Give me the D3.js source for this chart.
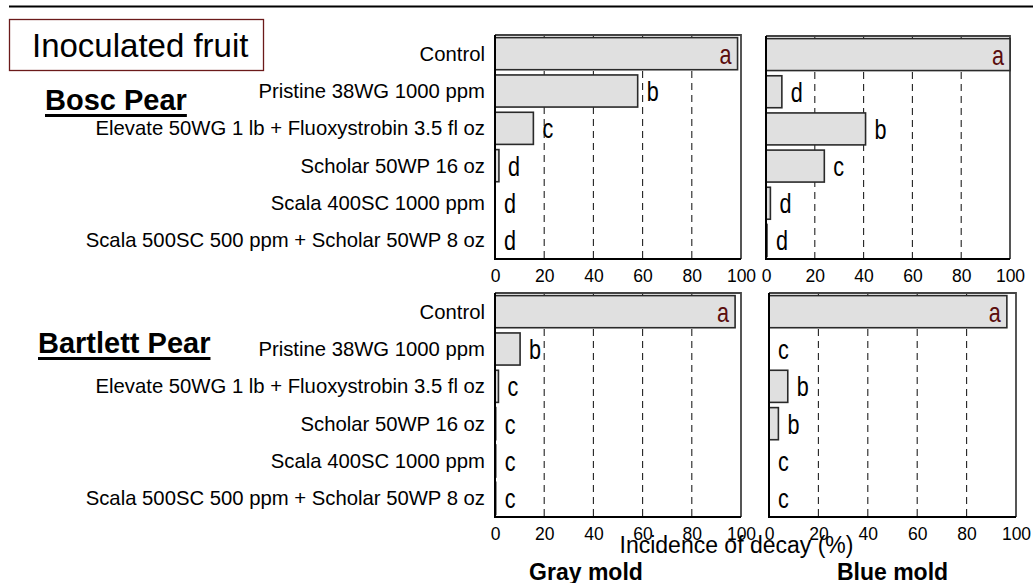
<!DOCTYPE html>
<html>
<head>
    <meta charset="utf-8">
    <title>Inoculated fruit</title>
    <script src="https://d3js.org/d3.v7.min.js"></script>
    <style>
        html, body { margin: 0; padding: 0; background: white; }
        text { font-family: "Liberation Sans", Arial, sans-serif; }
    </style>
</head>
<body>
<div id="chart"></div>
<script>
    // treatments, top to bottom
    const treatments = [
        "Control",
        "Pristine 38WG 1000 ppm",
        "Elevate 50WG 1 lb + Fluoxystrobin 3.5 fl oz",
        "Scholar 50WP 16 oz",
        "Scala 400SC 1000 ppm",
        "Scala 500SC 500 ppm + Scholar 50WP 8 oz"
    ];
    const xTicks = [0, 20, 40, 60, 80, 100];

    // incidence of decay (%)
    const boscGray = [98.6, 58, 15.6, 1.6, 0, 0];
    const boscGrayLetters = ["a", "b", "c", "d", "d", "d"];
    const boscBlue = [100, 6.5, 40.8, 23.9, 1.8, 0.4];
    const boscBlueLetters = ["a", "d", "b", "c", "d", "d"];
    const bartlettGray = [97.6, 10.2, 1.4, 0.3, 0.3, 0.3];
    const bartlettGrayLetters = ["a", "b", "c", "c", "c", "c"];
    const bartlettBlue = [96.3, 0, 7.6, 3.8, 0, 0];
    const bartlettBlueLetters = ["a", "c", "b", "b", "c", "c"];

    const W = 1033, H = 583;
    const svg = d3.select("#chart").append("svg")
        .attr("width", W).attr("height", H);

    // top rule
    svg.append("line")
        .attr("x1", 9).attr("x2", W).attr("y1", 6.5).attr("y2", 6.5)
        .attr("stroke", "black").attr("stroke-width", 2.2);

    // title box
    svg.append("rect")
        .attr("x", 9.5).attr("y", 19.5).attr("width", 254).attr("height", 51)
        .attr("fill", "white").attr("stroke", "#6b1a1a").attr("stroke-width", 1.3);
    svg.append("text")
        .attr("x", 32).attr("y", 57)
        .style("font-size", "33px")
        .text("Inoculated fruit");

    // panels: layout only
    const panels = [
        { values: boscGray, letters: boscGrayLetters, x0: 495, x1: 741, y0: 35, y1: 259, labels: true },
        { values: boscBlue, letters: boscBlueLetters, x0: 766, x1: 1010, y0: 36, y1: 259, labels: false },
        { values: bartlettGray, letters: bartlettGrayLetters, x0: 495, x1: 741, y0: 293, y1: 517, labels: true },
        { values: bartlettBlue, letters: bartlettBlueLetters, x0: 769, x1: 1016, y0: 293, y1: 517, labels: false }
    ];

    panels.forEach(p => {
        const x = d3.scaleLinear().domain([0, 100]).range([p.x0, p.x1]);
        const y = d3.scaleBand().domain(treatments).range([p.y0, p.y1])
            .paddingInner(0.14).paddingOuter(0.07);
        const g = svg.append("g");

        // dashed grid
        g.selectAll(".grid")
            .data(xTicks.filter(t => t > 0 && t < 100))
            .enter().append("line")
            .attr("x1", d => x(d)).attr("x2", d => x(d))
            .attr("y1", p.y0).attr("y2", p.y1)
            .attr("stroke", "#222").attr("stroke-width", 1.1)
            .attr("stroke-dasharray", "7,5");

        // top and right frame
        g.append("path")
            .attr("d", `M${p.x0},${p.y0}H${p.x1}V${p.y1}`)
            .attr("fill", "none").attr("stroke", "#444").attr("stroke-width", 1.8);

        // bars
        const rows = treatments.map((t, i) => ({ t: t, v: p.values[i], l: p.letters[i] }));
        g.selectAll(".bar")
            .data(rows)
            .enter().append("rect")
            .attr("x", x(0))
            .attr("y", d => y(d.t))
            .attr("width", d => x(d.v) - x(0))
            .attr("height", y.bandwidth())
            .attr("fill", "#e0e0e0")
            .attr("stroke", "#2a2a2a").attr("stroke-width", 1.6);

        // significance letters (narrow, tall look of the original)
        g.selectAll(".letter")
            .data(rows)
            .enter().append("text")
            .attr("transform", (d, i) => {
                const lx = i === 0 ? x(d.v) - 6 : x(d.v) + 9;
                const ly = y(d.t) + y.bandwidth() / 2 + 10;
                return `translate(${lx},${ly}) scale(0.9,1.18)`;
            })
            .attr("text-anchor", (d, i) => i === 0 ? "end" : "start")
            .style("font-size", "24px")
            .style("fill", (d, i) => i === 0 ? "#5a0d0d" : "black")
            .text(d => d.l);

        // left and bottom axis lines
        g.append("path")
            .attr("d", `M${p.x0},${p.y0}V${p.y1}H${p.x1}`)
            .attr("fill", "none").attr("stroke", "black").attr("stroke-width", 2);

        // tick labels
        const axis = g.append("g")
            .attr("transform", `translate(0,${p.y1})`)
            .call(d3.axisBottom(x).tickValues(xTicks).tickSize(0).tickPadding(6));
        axis.select(".domain").remove();
        axis.selectAll("text")
            .attr("dy", "0.95em")
            .style("font-size", "17.5px")
            .style("font-family", "\"Liberation Sans\", Arial, sans-serif")
            .style("fill", "black");

        // treatment labels
        if (p.labels) {
            g.selectAll(".cat")
                .data(treatments)
                .enter().append("text")
                .attr("x", p.x0 - 10)
                .attr("y", d => y(d) + y.bandwidth() / 2)
                .attr("dy", "0.35em")
                .attr("text-anchor", "end")
                .style("font-size", "20.3px")
                .text(d => d);
        }
    });

    // cultivar headings, underlined
    [["Bosc Pear", 45, 110], ["Bartlett Pear", 38, 353]].forEach(([t, x0, y0]) => {
        const txt = svg.append("text")
            .attr("x", x0).attr("y", y0)
            .style("font-size", "29px").style("font-weight", "bold")
            .text(t);
        const w = txt.node().getComputedTextLength();
        svg.append("rect")
            .attr("x", x0).attr("y", y0 + 4).attr("width", w).attr("height", 3)
            .attr("fill", "black");
    });

    // axis title and mold names
    svg.append("text")
        .attr("x", 736.5).attr("y", 553)
        .attr("text-anchor", "middle")
        .style("font-size", "23px")
        .text("Incidence of decay (%)");
    svg.append("text")
        .attr("x", 586).attr("y", 580)
        .attr("text-anchor", "middle")
        .style("font-size", "23px").style("font-weight", "bold")
        .text("Gray mold");
    svg.append("text")
        .attr("x", 892.5).attr("y", 580)
        .attr("text-anchor", "middle")
        .style("font-size", "23px").style("font-weight", "bold")
        .text("Blue mold");
</script>
</body>
</html>
